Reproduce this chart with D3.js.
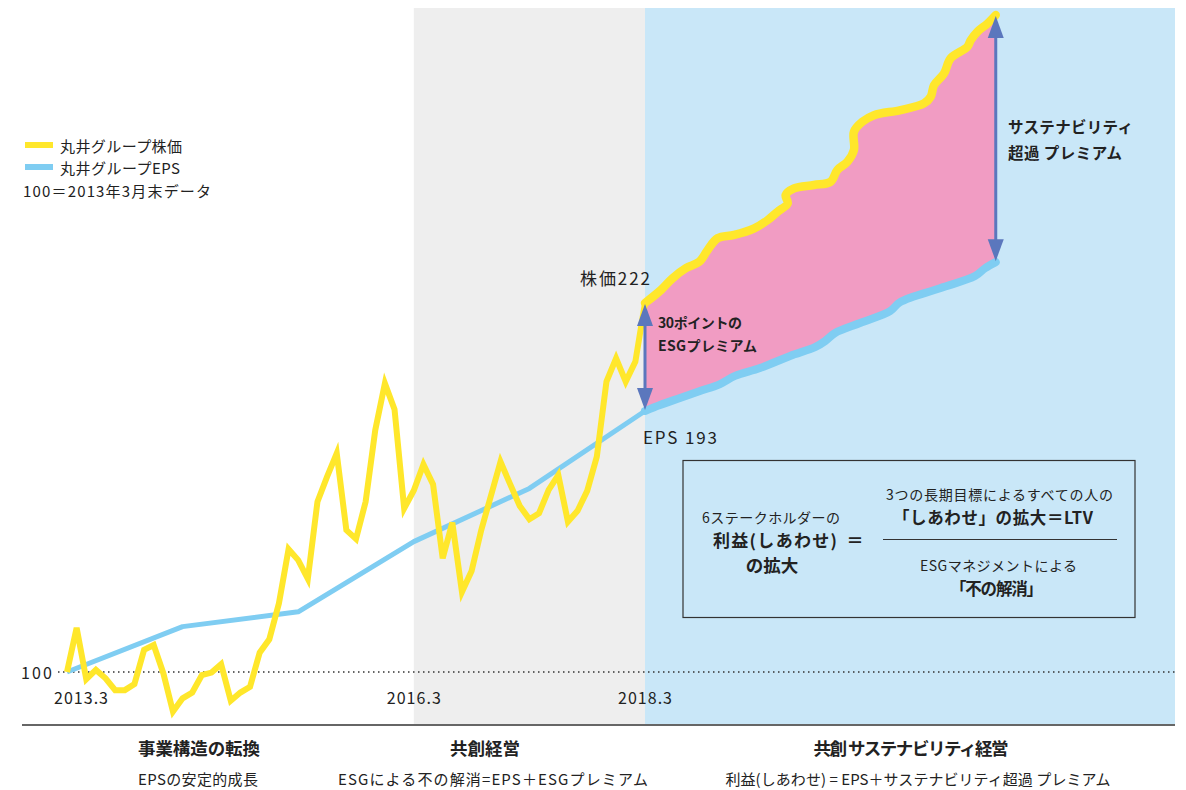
<!DOCTYPE html>
<html><head><meta charset="utf-8">
<script src="https://cdn.jsdelivr.net/npm/d3@7"></script>
<style>
html,body{margin:0;padding:0;background:#fff;}
svg{display:block;font-family:"Noto Sans CJK JP","Noto Sans",sans-serif;}
</style></head>
<body><svg id="chart" width="1186" height="790"></svg>
<script>
// ---- data (index, 100 = end of March 2013); x = months since 2013.3 ----
const stockMonths = d3.range(0, 61);
const stockValues = [100,114.6,97.6,100.7,97.9,94.0,94.0,96.0,107.3,108.9,99.6,86.9,91.3,93.2,99.0,99.8,102.6,90.5,93.2,95.1,106.4,110.8,122.7,140.6,137.0,130.8,156.3,164.6,172.3,146.9,144.0,156.3,180.0,195.4,186.8,154.1,160.0,168.6,162.0,137.6,149.4,126.5,133.4,146.9,158.2,169.5,162.1,154.9,150.5,152.5,160.2,165.1,149.7,153.3,159.9,171.2,196.0,203.7,196.0,202.6,222];
const epsMonths = [0,12,24,36,48,60];
const epsValues = [100,115.0,119.9,143.1,160.7,186.3];
// illustrative projection after 2018.3
const projStockMonths = [60,61.66,62.87,64.25,65.63,66.5,67.53,69.26,71.34,72.73,73.77,74.81,74.6,75.47,77.54,79.27,79.97,81.01,81.69,81.69,82.56,83.77,86.54,88.96,89.66,90.0,91.04,91.73,93.47,93.81,94.51,95.55,96.41];
const projStockValues = [222,226.3,230.2,233.5,235.6,239.5,243.4,244.5,246.7,249.4,252.2,254.9,257.7,259.9,261.0,262.1,266.0,268.7,272.6,278.6,281.9,284.1,285.8,288.0,290.2,294.0,297.9,302.9,306.7,308.9,311.7,314.4,317.2];
const projEpsMonths = [60,61.56,63.64,65.71,67.79,69.35,71.94,75.06,77.65,78.69,79.73,82.33,85.44,86.48,90.63,94.26,95.3,96.41];
const projEpsValues = [186.3,188.3,190.6,192.9,195.2,197.9,200.5,204.5,207.4,209.4,212.1,215.4,219.3,222.3,226.9,230.9,233.5,235.5];
const tickMonths = [0,36,60];
const tickLabels = ["2013.3","2016.3","2018.3"];
const periodTitles = ["事業構造の転換","共創経営","共創 サステナビリティ経営"];
const periodSubs = ["EPSの安定的成長","ESGによる不の解消=EPS＋ESGプレミアム","利益(しあわせ) = EPS＋サステナビリティ超過 プレミアム"];

// ---- layout ----
const svg = d3.select("#chart");
const C = {yellow:"#ffe72b", blue:"#7fcdf2", pink:"#f19cc3", bandBlue:"#c9e7f8", bandGray:"#eeeeee", arrow:"#5b77bd", text:"#222"};
const x = d3.scaleLinear().domain([0,60]).range([67,645]);
const y = d3.scaleLinear().domain([100,222]).range([672,303]);
const plotTop = 8, plotBottom = 725, plotRight = 1175, axisLeft = 22;

function txt(xx,yy,s,size,weight,anchor,len){
  const t = svg.append("text").attr("x",xx).attr("y",yy).attr("font-size",size)
    .attr("font-weight",weight||"normal")
    .attr("text-anchor",anchor||"start").attr("dominant-baseline","central").attr("fill",C.text).text(s);
  if(len) t.attr("textLength",len).attr("lengthAdjust","spacing");
  return t;
}

// bands
svg.append("rect").attr("x",x(36)).attr("y",plotTop).attr("width",x(60)-x(36)).attr("height",plotBottom-plotTop).attr("fill",C.bandGray);
svg.append("rect").attr("x",x(60)).attr("y",plotTop).attr("width",plotRight-x(60)).attr("height",plotBottom-plotTop).attr("fill",C.bandBlue);

// baseline 100
svg.append("line").attr("x1",58).attr("x2",plotRight).attr("y1",y(100)).attr("y2",y(100))
  .attr("stroke","#333").attr("stroke-width",1.5).attr("stroke-dasharray","1.5,3.5");
txt(52,y(100),"100",16,"normal","end",31);

// bottom axis line
svg.append("line").attr("x1",axisLeft).attr("x2",plotRight).attr("y1",plotBottom).attr("y2",plotBottom).attr("stroke","#666").attr("stroke-width",2);

// x tick labels
tickMonths.forEach((m,i)=>{
  txt(x(m)+(i===0?14:0),697,tickLabels[i],16,"normal","middle",54);
});

// projection area
const projStock = projStockMonths.map((m,i)=>[m,projStockValues[i]]);
const projEps = projEpsMonths.map((m,i)=>[m,projEpsValues[i]]);
const smooth = d3.line().x(d=>x(d[0])).y(d=>y(d[1])).curve(d3.curveCatmullRom.alpha(0.5));
const straight = d3.line().x(d=>x(d[0])).y(d=>y(d[1]));
const areaPath = smooth(projStock) + "L" + smooth(projEps.slice().reverse()).slice(1) + "Z";
svg.append("path").attr("d",areaPath).attr("fill",C.pink);

// EPS lines
svg.append("path").attr("d",straight(epsMonths.map((m,i)=>[m,epsValues[i]]))).attr("fill","none")
  .attr("stroke",C.blue).attr("stroke-width",5).attr("stroke-linejoin","round");
svg.append("path").attr("d",smooth(projEps)).attr("fill","none")
  .attr("stroke",C.blue).attr("stroke-width",8).attr("stroke-linejoin","round").attr("stroke-linecap","round");

// stock lines
svg.append("path").attr("d",straight(stockMonths.map((m,i)=>[m,stockValues[i]]))).attr("fill","none")
  .attr("stroke",C.yellow).attr("stroke-width",6);
svg.append("path").attr("d",smooth(projStock)).attr("fill","none")
  .attr("stroke",C.yellow).attr("stroke-width",8.5).attr("stroke-linejoin","round").attr("stroke-linecap","round");

// double arrows
function dArrow(m, vTop, vBot){
  const cx = x(m), t = y(vTop)+1, b = y(vBot)-1, hw = 8, hh = 22;
  const g = svg.append("g").attr("fill",C.arrow);
  g.append("line").attr("x1",cx).attr("x2",cx).attr("y1",t+hh-2).attr("y2",b-hh+2).attr("stroke",C.arrow).attr("stroke-width",3);
  g.append("path").attr("d",`M${cx},${t}L${cx-hw},${t+hh}L${cx+hw},${t+hh}Z`);
  g.append("path").attr("d",`M${cx},${b}L${cx-hw},${b-hh}L${cx+hw},${b-hh}Z`);
}
dArrow(60, stockValues[60], epsValues[5]);
dArrow(projStockMonths[projStockMonths.length-1], projStockValues[projStockValues.length-1], projEpsValues[projEpsValues.length-1]);

// annotations
txt(580,277,"株価222",17,"normal","start",70);
txt(643,436,"EPS 193",17,"normal","start",74);
txt(658,322,"30ポイントの",14,"bold","start",84);
txt(658,345,"ESGプレミアム",14,"bold","start",99);
txt(1008,126,"サステナビリティ",15.5,"bold","start",125);
txt(1008,152,"超過 プレミアム",15.5,"bold","start",114);

// legend
[[C.yellow,"丸井グループ株価",145,122],[C.blue,"丸井グループEPS",167,120]].forEach(d=>{
  svg.append("line").attr("x1",25).attr("x2",53).attr("y1",d[2]).attr("y2",d[2]).attr("stroke",d[0]).attr("stroke-width",6);
  txt(60,d[2],d[1],15,"normal","start",d[3]);
});
txt(23,190,"100＝2013年3月末データ",15,"normal","start",188);

// formula box
svg.append("rect").attr("x",683).attr("y",460.5).attr("width",452).attr("height",157).attr("fill",C.bandBlue).attr("stroke","#333").attr("stroke-width",1.2);
txt(771,517,"6ステークホルダーの",14,"normal","middle",138);
txt(775,539,"利益(しあわせ)",17,"bold","middle",124);
txt(855,539,"＝",17,"bold","middle");
txt(772,564,"の拡大",17.5,"bold","middle");
txt(999.5,494,"3つの長期目標によるすべての人の",14,"normal","middle",227);
txt(993,517,"「しあわせ」の拡大＝LTV",16.5,"bold","middle",200);
svg.append("line").attr("x1",883).attr("x2",1117).attr("y1",539.5).attr("y2",539.5).attr("stroke","#333").attr("stroke-width",1);
txt(998.5,565,"ESGマネジメントによる",14,"normal","middle",157);
txt(996.5,588,"「不の解消」",16.5,"bold","middle",93);

// period captions
const titleX = [199, 485, 911], titleLen = [122, 70, 195];
const subX = [198, 493, 918], subLen = [120, 310, 385];
periodTitles.forEach((t,i)=>{
  txt(titleX[i],747,t,17.5,"bold","middle",titleLen[i]);
  txt(subX[i],778,periodSubs[i],15,"normal","middle",subLen[i]);
});
</script></body></html>
